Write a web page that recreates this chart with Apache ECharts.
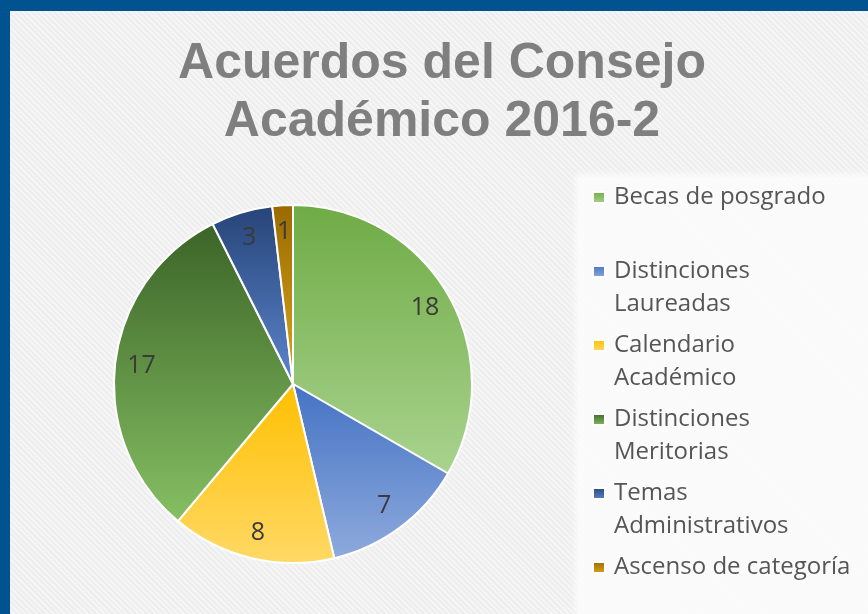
<!DOCTYPE html>
<html>
<head>
<meta charset="utf-8">
<script src="https://cdn.jsdelivr.net/npm/echarts@6/dist/echarts.min.js"></script>
<style>
  html, body { margin: 0; padding: 0; }
  body { width: 868px; height: 614px; background: #005290; position: relative; overflow: hidden; }
  .panel {
    position: absolute; left: 10px; top: 11px; right: 0; bottom: 0;
    background: repeating-linear-gradient(45deg, #eeeeee 0px, #eeeeee 2px, #f5f5f5 2px, #f5f5f5 4px);
  }
  .legend-box {
    position: absolute; left: 578px; top: 177px; right: 0; bottom: 0;
    background: rgba(252, 252, 252, 0.85);
    box-shadow: 0 0 6px 3px rgba(252, 252, 252, 0.85);
  }
  #chart { position: absolute; left: 0; top: 0; width: 868px; height: 614px; }
</style>
</head>
<body>
<div class="panel"></div>
<div class="legend-box"></div>
<div id="chart"></div>
<script>
const categories = ['Becas de posgrado', 'Distinciones Laureadas', 'Calendario Académico',
  'Distinciones Meritorias', 'Temas Administrativos', 'Ascenso de categoría']
const values = [18, 7, 8, 17, 3, 1]
const legendLabels = ['Becas de posgrado', 'Distinciones\nLaureadas', 'Calendario\nAcadémico',
  'Distinciones\nMeritorias', 'Temas\nAdministrativos', 'Ascenso de categoría']

// top / bottom colours of each slice gradient
const topColors = ['#6fab45', '#4472c4', '#ffbf00', '#3b6427', '#264478', '#9a6a00']
const bottomColors = ['#a9d38f', '#8eaadc', '#ffd966', '#86bf63', '#5d85cc', '#d9a61f']

const chart = echarts.init(document.getElementById('chart'))

const pieData = categories.map((name, i) => ({
  name,
  value: values[i],
  itemStyle: {
    color: new echarts.graphic.LinearGradient(0, 0, 0, 1, [
      { offset: 0, color: topColors[i] },
      { offset: 1, color: bottomColors[i] }
    ])
  }
}))

chart.setOption({
  animation: false,
  title: {
    text: 'Acuerdos del Consejo\nAcadémico 2016-2',
    left: 437,
    top: 30,
    textAlign: 'center',
    textStyle: {
      fontFamily: 'Liberation Sans, Arial, sans-serif',
      fontWeight: 'bold',
      fontSize: 50,
      lineHeight: 58,
      color: '#7f7f7f'
    }
  },
  legend: {
    orient: 'vertical',
    left: 592,
    top: 148,
    height: 500,
    padding: 0,
    itemWidth: 12,
    itemHeight: 11,
    itemGap: -25,
    icon: 'rect',
    data: categories,
    formatter: name => {
      const txt = legendLabels[categories.indexOf(name)]
      return txt.indexOf('\n') >= 0 ? '\n' + txt : '\n' + txt + '\n '
    },
    textStyle: {
      fontFamily: 'Open Sans, sans-serif',
      fontSize: 24,
      lineHeight: 33,
      color: '#555555',
      padding: [0, 0, 0, 4]
    }
  },
  series: [
    {
      type: 'pie',
      center: [293, 384],
      radius: [0, 179],
      startAngle: 90,
      clockwise: true,
      itemStyle: { borderColor: '#ffffff', borderWidth: 2 },
      label: { show: false },
      labelLine: { show: false },
      emphasis: { disabled: true },
      data: pieData
    },
    {
      // transparent ring only used to place the value labels near the rim
      type: 'pie',
      center: [293, 384],
      radius: [120, 179],
      startAngle: 90,
      clockwise: true,
      silent: true,
      itemStyle: { color: 'rgba(0,0,0,0)' },
      label: {
        show: true,
        position: 'inside',
        formatter: '{c}',
        fontFamily: 'Open Sans, sans-serif',
        fontSize: 25,
        color: '#3a3a3a'
      },
      labelLine: { show: false },
      emphasis: { disabled: true },
      data: categories.map((name, i) => ({ name, value: values[i] }))
    }
  ]
})
</script>
</body>
</html>
